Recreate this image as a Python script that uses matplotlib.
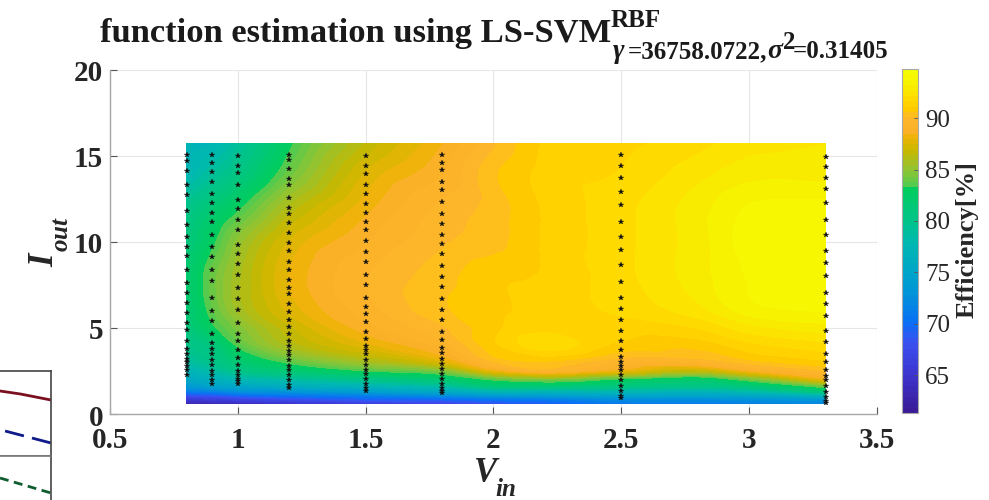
import numpy as np
import matplotlib
matplotlib.use("Agg")
import matplotlib.pyplot as plt
import matplotlib.tri as mtri
from matplotlib.colors import LinearSegmentedColormap, Normalize
from matplotlib.cm import ScalarMappable
from matplotlib.transforms import ScaledTranslation

plt.rcParams['font.family'] = ['Liberation Serif', 'DejaVu Serif']
plt.rcParams['mathtext.fontset'] = 'custom'
plt.rcParams['mathtext.rm'] = 'Liberation Serif:bold'
plt.rcParams['mathtext.it'] = 'Liberation Serif:italic:bold'
plt.rcParams['mathtext.bf'] = 'Liberation Serif:bold'

W, H = 989, 500

# surface samples
v_grid = [0.8, 0.9, 1.0, 1.2, 1.5, 1.8, 2.0, 2.2, 2.5, 2.8, 3.0, 3.3]
i_grid = [0.6, 0.8, 1.0, 1.3, 1.6, 2.0, 2.5, 3.0, 4.0, 5.0, 6.0, 8.0, 10.0, 12.0, 14.0, 15.7]
eff_i06 = [63.0, 63.5, 64.0, 65.0, 66.0, 67.0, 68.0, 69.0, 71.0, 71.5, 71.5, 72.0]
eff_i08 = [65.0, 65.5, 66.0, 67.0, 68.5, 69.0, 70.0, 70.5, 72.0, 72.0, 72.5, 73.0]
eff_i10 = [67.0, 67.5, 68.5, 69.5, 70.5, 71.5, 72.5, 73.0, 74.0, 74.0, 74.5, 76.0]
eff_i13 = [71.0, 71.5, 72.5, 73.0, 74.0, 75.5, 77.0, 77.0, 77.5, 77.0, 78.0, 81.0]
eff_i16 = [73.5, 74.5, 75.0, 76.0, 77.0, 78.5, 81.0, 81.0, 80.5, 80.0, 81.0, 84.0]
eff_i20 = [75.5, 76.5, 77.5, 78.5, 80.0, 81.5, 83.5, 84.5, 83.0, 82.0, 84.0, 88.0]
eff_i25 = [77.0, 78.5, 80.0, 81.5, 83.3, 84.5, 88.0, 89.5, 88.0, 86.5, 88.5, 90.0]
eff_i30 = [78.5, 80.0, 81.5, 83.5, 85.5, 87.5, 90.0, 90.5, 89.5, 89.5, 90.3, 91.0]
eff_i40 = [80.0, 81.0, 83.5, 86.0, 87.8, 89.3, 91.0, 92.0, 91.0, 90.8, 91.5, 92.0]
eff_i50 = [81.0, 83.0, 84.5, 86.8, 88.8, 90.0, 91.0, 91.5, 91.3, 91.7, 92.5, 93.0]
eff_i60 = [81.5, 83.7, 85.5, 87.6, 89.3, 90.5, 91.0, 91.3, 91.8, 92.5, 93.5, 93.8]
eff_i80 = [81.8, 84.0, 85.7, 88.0, 89.5, 90.4, 91.0, 91.2, 92.0, 93.0, 93.8, 94.0]
eff_i100 = [81.0, 83.0, 85.0, 87.5, 89.0, 90.0, 90.4, 91.2, 92.0, 93.0, 94.0, 94.0]
eff_i120 = [80.0, 81.5, 83.0, 86.0, 88.3, 89.7, 90.3, 91.2, 92.0, 93.0, 93.8, 93.9]
eff_i140 = [77.5, 79.0, 80.5, 84.0, 87.5, 89.0, 90.5, 91.3, 91.7, 92.5, 93.0, 93.0]
eff_i157 = [77.0, 77.5, 79.0, 83.0, 86.5, 88.5, 90.0, 91.2, 91.5, 92.0, 92.5, 92.7]

# measurement points
pts_v = [0.8, 0.9, 1.0, 1.2, 1.5, 1.8, 2.5, 3.3]
pts_08 = [15.03, 14.70, 14.10, 13.32, 12.74, 11.79, 11.00, 10.28, 9.70, 9.17, 8.38, 7.60, 7.04, 6.44, 5.88, 5.28, 4.85, 4.23, 3.79, 3.50, 3.21, 3.01, 2.76, 2.53, 2.24]
pts_09 = [15.03, 14.58, 14.04, 13.44, 12.78, 12.26, 11.67, 11.15, 10.38, 9.70, 9.12, 8.38, 7.72, 6.75, 5.96, 5.40, 4.66, 4.15, 3.79, 3.46, 3.11, 2.82, 2.49, 2.24, 1.98, 1.75]
pts_10 = [14.97, 14.41, 14.00, 13.28, 12.45, 11.91, 11.25, 10.67, 9.83, 9.29, 8.69, 8.05, 7.31, 6.65, 6.01, 5.30, 4.66, 4.23, 3.69, 3.26, 2.82, 2.49, 2.24, 2.04, 1.91, 1.75]
pts_12 = [15.03, 14.74, 14.25, 13.67, 13.28, 12.55, 11.98, 11.64, 11.11, 10.53, 9.95, 9.45, 8.83, 8.34, 7.76, 7.33, 6.95, 6.40, 5.92, 5.43, 5.05, 4.62, 4.23, 3.92, 3.65, 3.40, 3.11, 2.78, 2.53, 2.24, 1.95, 1.71, 1.52]
pts_15 = [14.97, 14.41, 13.92, 13.28, 12.80, 12.22, 11.67, 11.15, 10.67, 10.03, 9.41, 8.83, 8.05, 7.47, 6.73, 6.21, 5.82, 5.34, 4.76, 4.33, 3.92, 3.69, 3.46, 3.15, 2.82, 2.57, 2.33, 2.04, 1.75, 1.52, 1.36]
pts_18 = [15.03, 14.60, 14.15, 13.48, 12.99, 12.31, 11.64, 11.03, 10.38, 9.89, 9.27, 8.57, 7.95, 7.37, 6.69, 6.05, 5.43, 4.76, 4.27, 3.84, 3.53, 3.21, 2.91, 2.62, 2.33, 2.04, 1.75, 1.52, 1.33, 1.21]
pts_25 = [15.01, 14.39, 13.71, 12.88, 12.12, 11.15, 10.28, 9.54, 8.67, 7.66, 6.73, 6.09, 5.43, 4.81, 4.23, 3.73, 3.30, 3.01, 2.76, 2.53, 2.27, 1.95, 1.65, 1.36, 1.07, 0.94]
pts_33 = [14.93, 14.35, 13.69, 13.05, 12.26, 11.25, 10.38, 9.46, 8.79, 8.03, 7.04, 6.38, 5.67, 4.81, 4.19, 3.46, 3.01, 2.53, 2.18, 1.95, 1.60, 1.27, 0.98, 0.78, 0.63]

x_ticks = [0.5, 1, 1.5, 2, 2.5, 3, 3.5]
x_labels = ['0.5', '1', '1.5', '2', '2.5', '3', '3.5']
y_ticks = [0, 5, 10, 15, 20]
cbar_ticks = [65, 70, 75, 80, 85, 90]

# cropped neighbour panel at the lower left
frag_x = [0.0, 0.4, 1.0]
frag_red = [65, 62, 56]
frag_blue_x = [0.1, 1.0]
frag_blue = [25, 13]
frag_green_x = [0.0, 1.0]
frag_green = [22, 7]

vmin, vmax = 61.3, 94.8
stops = [(61.3, '#3a1c98'), (65, '#3c35d0'), (68, '#3a50f0'), (70, '#0a70f5'), (73, '#0095d8'),
         (75, '#00a5c8'), (78, '#00b8b0'), (80, '#00c48a'), (83.1, '#00cc60'), (83.4, '#4ccb50'),
         (85, '#8cc435'), (87, '#c8b800'), (88.3, '#ecb405'), (89, '#fbb02a'), (90.3, '#fdb82a'),
         (91, '#ffc800'), (92, '#ffd800'), (93.5, '#f8f000'), (94.8, '#f4fc00')]
cmap = LinearSegmentedColormap.from_list(
    'eff', [((v - vmin) / (vmax - vmin), c) for v, c in stops], N=64)
norm = Normalize(vmin, vmax)


def axpx(l, t, r, b):
    return [l / W, 1 - b / H, (r - l) / W, (b - t) / H]


def put(x, y, s, **kw):
    kw.setdefault('color', '#1a1a1a')
    fig.text(x / W, 1 - y / H, s, ha='left', va='baseline', rotation_mode='anchor', **kw)


fig = plt.figure(figsize=(W / 100, H / 100), dpi=100)
ax = fig.add_axes(axpx(110, 69.5, 877, 414))

eff = np.array([eff_i06, eff_i08, eff_i10, eff_i13, eff_i16, eff_i20, eff_i25, eff_i30,
                eff_i40, eff_i50, eff_i60, eff_i80, eff_i100, eff_i120, eff_i140, eff_i157])
VV, II = np.meshgrid(v_grid, i_grid)
nr, nc = VV.shape
tris = []
for r in range(nr - 1):
    for c in range(nc - 1):
        a = r * nc + c
        tris.append([a, a + 1, a + nc])
        tris.append([a + 1, a + nc + 1, a + nc])
tri = mtri.Triangulation(VV.ravel(), II.ravel(), np.array(tris))
fine_tri, fine_eff = mtri.UniformTriRefiner(tri).refine_field(
    eff.ravel(), mtri.CubicTriInterpolator(tri, eff.ravel(), kind='geom'), subdiv=3)
levels = np.linspace(vmin, vmax, 65)
ax.tricontourf(fine_tri, np.clip(fine_eff, vmin, vmax), levels=levels, cmap=cmap, norm=norm,
               zorder=2, antialiased=False)

for v, pts in zip(pts_v, [pts_08, pts_09, pts_10, pts_12, pts_15, pts_18, pts_25, pts_33]):
    ax.plot([v] * len(pts), pts, ls='none', marker='*', ms=3.8, mfc='#111111', mec='#111111',
            mew=0.2, zorder=3, clip_on=False)

ax.set_xlim(0.5, 3.5)
ax.set_ylim(0, 20)
ax.set_xticks(x_ticks, x_labels)
ax.set_yticks(y_ticks)
ax.grid(True, color='#e6e6e6', lw=0.8, zorder=0)
ax.set_axisbelow(True)
for s in ('top', 'right'):
    ax.spines[s].set_visible(False)
for s in ('left', 'bottom'):
    ax.spines[s].set_color('#a8a8a8')
    ax.spines[s].set_linewidth(1.0)
ax.tick_params(direction='in', length=5, width=0.8, color='#555555', labelcolor='#262626',
               labelsize=21)
ax.tick_params(axis='x', pad=9)
ax.tick_params(axis='y', pad=5)
for t in ax.get_xticklabels():
    t.set_fontweight('bold')
for t in ax.get_yticklabels():
    t.set_fontweight('bold')
    t.set_transform(t.get_transform() + ScaledTranslation(0, -1 / 100, fig.dpi_scale_trans))

put(100, 42, 'function estimation using LS-SVM', fontsize=24.8, fontweight='bold')
put(611, 27, 'RBF', fontsize=18, fontweight='bold')
put(612, 58, r'$\gamma$', fontsize=20)
put(628, 58, '=36758.0722,', fontsize=18, fontweight='bold')
put(767, 58, r'$\sigma$', fontsize=20)
put(783, 49, '2', fontsize=18, fontweight='bold')
put(793, 58, '=0.31405', fontsize=18, fontweight='bold')

put(53, 267, r'$I$', fontsize=25, rotation=90, color='#262626')
put(68, 252, r'$out$', fontsize=18, rotation=90, color='#262626')
put(473, 482, r'$V$', fontsize=25, color='#262626')
put(495, 496, r'$in$', fontsize=18, color='#262626')

cax = fig.add_axes(axpx(902, 69, 918, 413))
cb = fig.colorbar(ScalarMappable(norm=norm, cmap=cmap), cax=cax)
cb.set_ticks(cbar_ticks)
cb.ax.tick_params(direction='in', length=3, width=0.6, color='#555555', labelcolor='#262626',
                  labelsize=18, pad=5)
cb.outline.set_edgecolor('#a8a8a8')
cb.outline.set_linewidth(0.8)
fig.text(967 / W, 1 - 240 / H, 'Efficiency[%]', rotation=90, fontsize=19, fontweight='bold',
         ha='center', va='center', color='#262626')

# neighbour panel fragment
top = fig.add_axes(axpx(-60, 371, 51, 456))
top.set_xlim(-60 / 51 * 1.0, 1)
top.set_ylim(0, 85)
top.plot(frag_x, frag_red, color='#7a1020', lw=2)
top.plot(frag_blue_x, frag_blue, color='#101a88', lw=2, dashes=(7, 3))
bot = fig.add_axes(axpx(-60, 456, 51, 530))
bot.set_xlim(-60 / 51 * 1.0, 1)
bot.set_ylim(-30, 44)
bot.plot(frag_green_x, frag_green, color='#0f5c30', lw=2, dashes=(3.2, 2))
for a in (top, bot):
    a.set_xticks([])
    a.set_yticks([])
    for s in a.spines.values():
        s.set_color('#444444')
        s.set_linewidth(1.2)
top.spines['bottom'].set_color('#777777')
bot.spines['top'].set_color('#777777')

fig.savefig('out.png', dpi=100)
